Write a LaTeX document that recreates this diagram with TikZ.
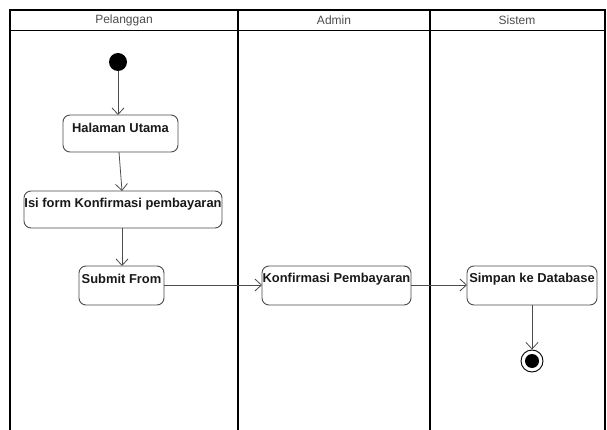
\documentclass[tikz,border=0pt]{standalone}
\usepackage{fontspec}
\setmainfont{Liberation Sans}
\usetikzlibrary{arrows.meta}
\begin{document}
\begin{tikzpicture}[x=1pt,y=-1pt,
  act/.style={draw=black!70,line width=0.9pt,rounded corners=7pt,fill=white,anchor=north west,inner sep=0pt},
  lbl/.style={font=\fontsize{12.9}{14}\selectfont\bfseries,text=black!90},
  flow/.style={draw=black!70,line width=0.8pt,-{Straight Barb[length=6.5pt,width=12pt]}},
  lane/.style={draw=black,line width=1.4pt},
  head/.style={font=\fontsize{12}{14}\selectfont,text=black!70}]
\useasboundingbox (0,0) rectangle (607,430);
% swimlane frame
\draw[lane] (10,440) -- (10,10) -- (605,10) -- (605,440);
\draw[lane,line width=1pt] (10,31) -- (605,31);
\draw[lane] (238,10) -- (238,440);
\draw[lane] (430,10) -- (430,440);
\node[head] (h1) at (124,20) {Pelanggan};
\node[head] (h2) at (334,20) {Admin};
\node[head] (h3) at (517,20) {Sistem};
% start
\node[circle,fill=black,minimum size=18pt,inner sep=0pt] (start) at (118,62) {};
% activities
\draw[act] (63,115) rectangle (178,152);
\coordinate (a1n) at (118,115); \coordinate (a1s) at (119,152);
\node[lbl] (t1) at (120.5,128) {Halaman Utama};
\draw[act] (24,191) rectangle (222,228);
\coordinate (a2n) at (122,191); \coordinate (a2s) at (122,228);
\node[lbl] (t2) at (123,204) {Isi form Konfirmasi pembayaran};
\draw[act] (79,266) rectangle (164,305);
\coordinate (a3n) at (122,266); \coordinate (a3e) at (164,285);
\node[lbl] (t3) at (121.5,279) {Submit From};
\draw[act] (262,266) rectangle (411,305);
\coordinate (a4w) at (262,285); \coordinate (a4e) at (411,285);
\node[lbl] (t4) at (336.5,279) {Konfirmasi Pembayaran};
\draw[act] (467,266) rectangle (597,305);
\coordinate (a5w) at (467,285); \coordinate (a5s) at (532,305);
\node[lbl] (t5) at (532,279) {Simpan ke Database};
% end
\node[circle,draw=black,line width=0.9pt,minimum size=22pt,inner sep=0pt,fill=white] (end) at (532,361) {};
\node[circle,fill=black,minimum size=14pt,inner sep=0pt] (endc) at (532,361) {};
% flows
\draw[flow] (start) -- (a1n);
\draw[flow] (a1s) -- (a2n);
\draw[flow] (a2s) -- (a3n);
\draw[flow] (a3e) -- (a4w);
\draw[flow] (a4e) -- (a5w);
\draw[flow] (a5s) -- (end);
\end{tikzpicture}
\end{document}
